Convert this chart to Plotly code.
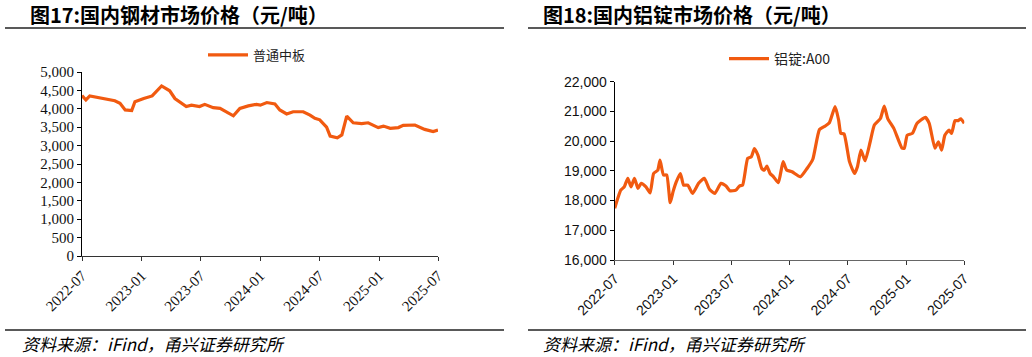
import plotly.graph_objects as go

# ---------------- data ----------------
steel_dates = [
    "2022-07-01", "2022-07-13", "2022-07-25", "2022-08-15", "2022-09-15", "2022-10-10",
    "2022-10-26", "2022-11-11", "2022-12-01", "2022-12-11", "2023-01-07", "2023-02-02",
    "2023-03-03", "2023-03-28", "2023-04-13", "2023-05-18", "2023-06-03", "2023-06-28",
    "2023-07-14", "2023-08-09", "2023-08-30", "2023-09-24", "2023-10-10", "2023-10-30",
    "2023-11-25", "2023-12-20", "2024-01-01", "2024-01-21", "2024-02-15", "2024-03-01",
    "2024-03-22", "2024-04-11", "2024-05-12", "2024-06-02", "2024-06-17", "2024-07-02",
    "2024-07-23", "2024-08-03", "2024-08-25", "2024-09-08", "2024-09-23", "2024-10-13",
    "2024-11-08", "2024-11-28", "2024-12-29", "2025-01-14", "2025-02-04", "2025-03-01",
    "2025-03-16", "2025-04-21", "2025-05-21", "2025-06-16", "2025-07-01",
]
steel_values = [
    4360, 4240, 4350, 4310, 4260, 4220,
    4150, 3970, 3950, 4190, 4280, 4350,
    4620, 4490, 4280, 4060, 4100, 4060,
    4120, 4030, 4010, 3880, 3810, 4010,
    4080, 4120, 4100, 4170, 4130, 3970,
    3860, 3920, 3920, 3830, 3740, 3700,
    3500, 3260, 3210, 3290, 3800, 3620,
    3600, 3620, 3490, 3530, 3470, 3490,
    3550, 3560, 3440, 3380, 3420,
]

alu_dates = [
    "2022-07-01", "2022-07-20", "2022-07-31", "2022-08-11", "2022-08-21", "2022-09-01",
    "2022-09-12", "2022-09-22", "2022-10-07", "2022-10-20", "2022-10-31", "2022-11-13",
    "2022-11-20", "2022-12-01", "2022-12-11", "2022-12-22", "2022-12-31", "2023-01-10",
    "2023-01-23", "2023-02-02", "2023-02-15", "2023-03-02", "2023-03-21", "2023-04-08",
    "2023-04-24", "2023-05-11", "2023-05-30", "2023-06-15", "2023-06-27", "2023-07-16",
    "2023-07-27", "2023-08-06", "2023-08-22", "2023-09-02", "2023-09-12", "2023-09-23",
    "2023-10-05", "2023-10-13", "2023-10-21", "2023-10-31", "2023-11-11", "2023-11-26",
    "2023-12-11", "2023-12-22", "2024-01-08", "2024-02-03", "2024-02-24", "2024-03-13",
    "2024-04-03", "2024-04-21", "2024-05-04", "2024-05-22", "2024-06-02", "2024-06-09",
    "2024-06-19", "2024-07-06", "2024-07-22", "2024-07-31", "2024-08-11", "2024-08-24",
    "2024-09-09", "2024-09-22", "2024-10-11", "2024-10-23", "2024-11-03", "2024-11-22",
    "2024-12-18", "2024-12-25", "2025-01-03", "2025-01-19", "2025-02-03", "2025-03-01",
    "2025-03-13", "2025-03-31", "2025-04-11", "2025-04-21", "2025-05-01", "2025-05-14",
    "2025-05-22", "2025-06-02", "2025-06-12", "2025-06-20", "2025-07-01",
]
alu_values = [
    17740, 18350, 18460, 18750, 18460, 18750,
    18410, 18580, 18460, 18260, 18910, 19020,
    19360, 18860, 18860, 17930, 18300, 18630,
    18910, 18520, 18520, 18240, 18580, 18750,
    18380, 18240, 18580, 18490, 18330, 18350,
    18490, 18520, 19420, 19470, 19750, 19530,
    19080, 19020, 19160, 18910, 18800, 18600,
    19310, 19030, 18970, 18800, 19080, 19390,
    20390, 20510, 20620, 21160, 20710, 20260,
    20240, 19310, 18910, 19140, 19700, 19340,
    19980, 20540, 20760, 21180, 20760, 20430,
    19760, 19760, 20200, 20260, 20600, 20800,
    20600, 19760, 19980, 19700, 20200, 20370,
    20260, 20690, 20690, 20750, 20600,
]

tick_dates = ["2022-07-01", "2023-01-01", "2023-07-01", "2024-01-01",
              "2024-07-01", "2025-01-01", "2025-07-01"]
tick_labels = ["2022-07", "2023-01", "2023-07", "2024-01", "2024-07", "2025-01", "2025-07"]

title_left = "图17:国内钢材市场价格（元/吨）"
title_right = "图18:国内铝锭市场价格（元/吨）"
source_text = "资料来源：iFind，甬兴证券研究所"
steel_name = "普通中板"
alu_name = "铝锭:A00"

# ---------------- layout helpers ----------------
W, H = 1032, 357
LINE_COLOR = "#F15A10"
CJK = "Noto Sans CJK SC"
SERIF = "Liberation Serif"
SANS = "Liberation Sans"


def px_x(p):
    return p / W


def px_y(p):
    return 1 - p / H


fig = go.Figure()

fig.add_trace(go.Scatter(
    x=steel_dates, y=steel_values, mode="lines", name=steel_name,
    line=dict(color=LINE_COLOR, width=3.2), xaxis="x", yaxis="y", legend="legend",
))
fig.add_trace(go.Scatter(
    x=alu_dates, y=alu_values, mode="lines", name=alu_name,
    line=dict(color=LINE_COLOR, width=3.2, shape="spline", smoothing=0.5),
    xaxis="x2", yaxis="y2", legend="legend2",
))

common_x = dict(
    type="date", range=["2022-07-01", "2025-07-01"], tickvals=tick_dates,
    ticktext=tick_labels, tickangle=-45, ticks="outside", ticklen=4,
    showgrid=False, zeroline=False, showline=True, linewidth=1.2, automargin=False,
)

fig.update_layout(
    width=W, height=H,
    margin=dict(l=0, r=0, t=0, b=0, autoexpand=False),
    paper_bgcolor="white", plot_bgcolor="white",
    xaxis=dict(**common_x, domain=[px_x(82), px_x(438)], anchor="y",
               linecolor="#333", tickcolor="#333",
               tickfont=dict(family=SERIF, size=15, color="#111")),
    yaxis=dict(domain=[px_y(256), px_y(72)], range=[0, 5000], dtick=500,
               tickformat=",d", ticks="outside", ticklen=4, showgrid=False,
               zeroline=False, showline=True, linecolor="#000", linewidth=1.2,
               tickcolor="#000", anchor="x", automargin=False,
               tickfont=dict(family=SERIF, size=15, color="#111")),
    xaxis2=dict(**common_x, domain=[px_x(614.7), px_x(964.3)], anchor="y2",
                linecolor="#666", tickcolor="#333",
                tickfont=dict(family=SANS, size=14, color="#111")),
    yaxis2=dict(domain=[px_y(260), px_y(81.7)], range=[16000, 22000], dtick=1000,
                tickformat=",d", ticks="outside", ticklen=4, showgrid=False,
                zeroline=False, showline=True, linecolor="#000", linewidth=1.2,
                tickcolor="#000", anchor="x2", automargin=False,
                tickfont=dict(family=SANS, size=14, color="#111")),
    legend=dict(x=px_x(203), y=px_y(55), xanchor="left", yanchor="middle",
                bgcolor="rgba(0,0,0,0)", font=dict(family=CJK, size=13, color="#222"),
                itemwidth=40),
    legend2=dict(x=px_x(724), y=px_y(59), xanchor="left", yanchor="middle",
                 bgcolor="rgba(0,0,0,0)", font=dict(family=CJK + ", " + SANS, size=14, color="#222"),
                 itemwidth=40),
    showlegend=True,
)

annotations = [
    dict(text=title_left, x=px_x(28), y=px_y(15), xref="paper", yref="paper",
         xanchor="left", yanchor="middle", showarrow=False,
         font=dict(family=CJK, size=20, color="#000", weight="bold")),
    dict(text=title_right, x=px_x(541), y=px_y(15), xref="paper", yref="paper",
         xanchor="left", yanchor="middle", showarrow=False,
         font=dict(family=CJK, size=20, color="#000", weight="bold")),
    dict(text="<i>" + source_text + "</i>", x=px_x(20), y=px_y(343), xref="paper", yref="paper",
         xanchor="left", yanchor="middle", showarrow=False,
         font=dict(family=CJK, size=17, color="#000")),
    dict(text="<i>" + source_text + "</i>", x=px_x(541), y=px_y(343), xref="paper", yref="paper",
         xanchor="left", yanchor="middle", showarrow=False,
         font=dict(family=CJK, size=17, color="#000")),
]
fig.update_layout(annotations=annotations)

shapes = []
for (x0, x1) in [(5, 504), (528, 1026)]:
    for yy in (28, 330):
        shapes.append(dict(type="line", xref="paper", yref="paper",
                           x0=px_x(x0), x1=px_x(x1), y0=px_y(yy), y1=px_y(yy),
                           line=dict(color="#222", width=1.5)))
fig.update_layout(shapes=shapes)

fig.write_html(
    "out.html",
    config={"displayModeBar": False},
    post_script="document.body.style.margin='0';document.body.style.overflow='hidden';",
)
